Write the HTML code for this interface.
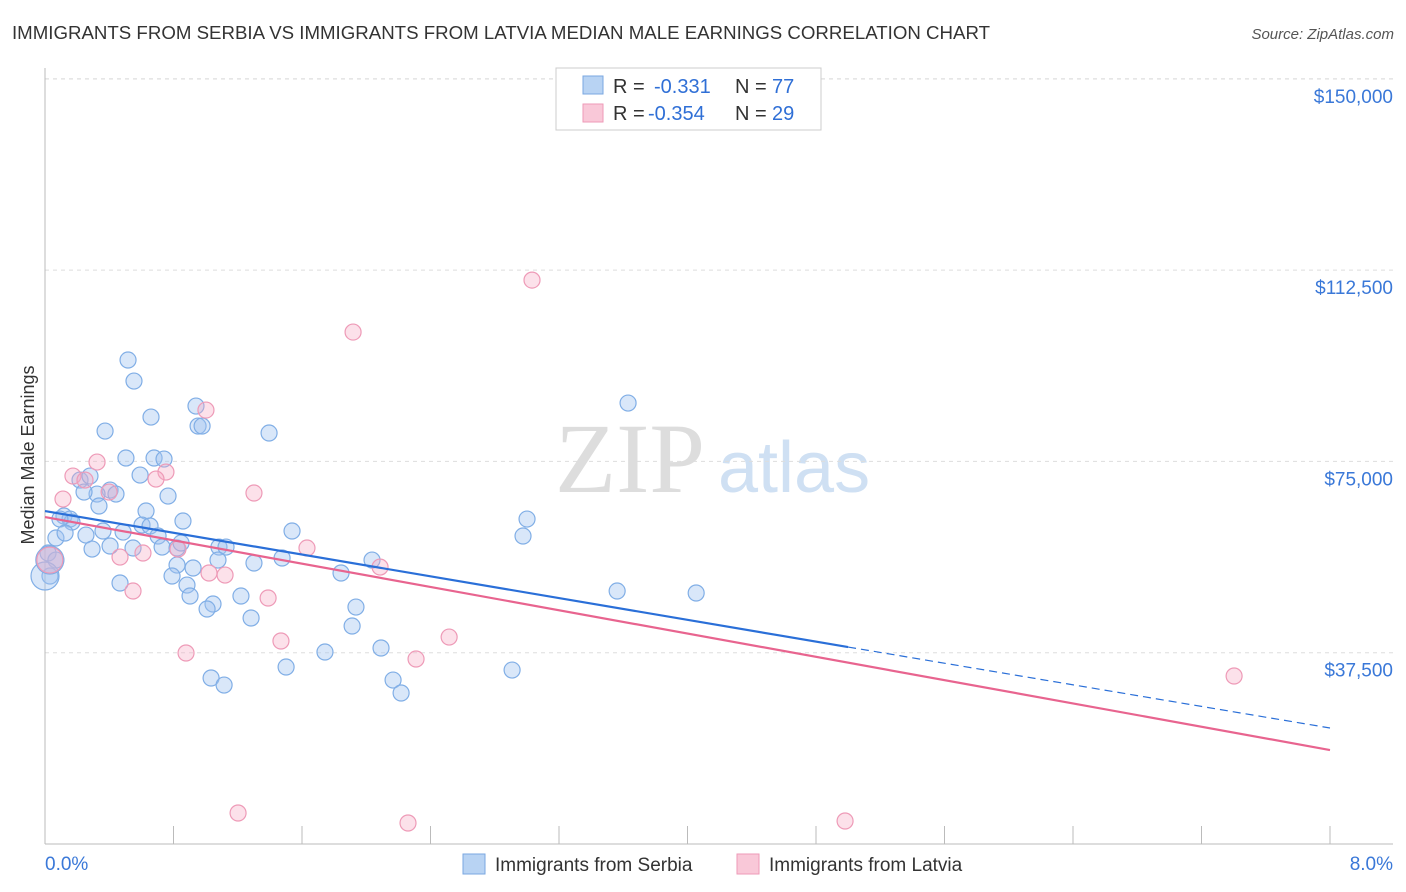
<!DOCTYPE html>
<html><head><meta charset="utf-8"><style>
body{margin:0;background:#fff;font-family:"Liberation Sans",sans-serif;}
#c{position:relative;width:1406px;height:892px;overflow:hidden;}
</style></head><body>
<div id="c">
<svg id="s" width="1406" height="892" xmlns="http://www.w3.org/2000/svg">
<text x="12" y="39" font-size="18" fill="#333" textLength="978" lengthAdjust="spacingAndGlyphs">IMMIGRANTS FROM SERBIA VS IMMIGRANTS FROM LATVIA MEDIAN MALE EARNINGS CORRELATION CHART</text>
<text x="1394" y="39" font-size="15" fill="#555" font-style="italic" text-anchor="end">Source: ZipAtlas.com</text>
<text x="34" y="455" font-size="18" fill="#333" text-anchor="middle" transform="rotate(-90 34 455)">Median Male Earnings</text>
<text x="555" y="492" font-size="100" fill="#ddd" font-family="Liberation Serif">ZIP</text>
<text x="718" y="492" font-size="72" fill="#cfe0f3">atlas</text>
<g id="grid"></g><g id="axes"></g><g id="pts"></g><g id="trend"></g>
<g>
<rect x="556" y="68" width="265" height="62" fill="#fff" stroke="#ccc"/>
<rect x="583" y="76" width="20" height="18" fill="#b8d3f3" stroke="#7aa7e0"/>
<rect x="583" y="104" width="20" height="18" fill="#f9c8d8" stroke="#ee9ab7"/>
<text x="613" y="93" font-size="20" fill="#333">R = <tspan x="654" fill="#2f6fd6">-0.331</tspan><tspan x="735">N = </tspan><tspan x="772" fill="#2f6fd6">77</tspan></text>
<text x="613" y="120" font-size="20" fill="#333">R = <tspan x="648" fill="#2f6fd6">-0.354</tspan><tspan x="735">N = </tspan><tspan x="772" fill="#2f6fd6">29</tspan></text>
</g>
<g>
<rect x="463" y="854" width="22" height="20" fill="#b8d3f3" stroke="#7aa7e0"/>
<text x="495" y="871" font-size="19" fill="#333">Immigrants from Serbia</text>
<rect x="737" y="854" width="22" height="20" fill="#f9c8d8" stroke="#ee9ab7"/>
<text x="769" y="871" font-size="19" fill="#333">Immigrants from Latvia</text>
</g>
</svg></div>
<script>
const yTicks=[37500,75000,112500,150000];
const yTickLabels=["$37,500","$75,000","$112,500","$150,000"];
const xTickLabels=["0.0%","8.0%"];
const serbiaX=[0.517,0.554,0.660,0.374,0.940,0.953,0.978,1.395,0.504,0.679,0.741,0.592,0.766,3.630,0.218,0.280,0.405,0.442,0.324,0.243,0.336,0.118,0.156,0.168,0.093,0.629,0.859,0.604,0.654,0.361,0.486,0.704,0.068,0.125,0.255,0.019,0.031,0.293,0.405,0.548,0.729,0.822,0.847,1.083,1.127,1.538,3.001,2.976,1.077,1.301,1.476,2.036,0.822,0.922,0.791,0.884,1.843,0.467,0.903,1.220,1.046,1.009,1.936,1.283,1.912,3.562,4.054,1.743,2.092,1.501,2.908,1.034,1.115,2.167,2.217,0.068];
const serbiaY=[94870,90750,83690,80950,85850,81930,81930,80560,75660,75660,75460,72320,68210,86440,71340,72130,69380,68600,68600,68990,66250,64290,63700,63110,63700,65270,63310,62520,62330,61350,61150,60370,59980,60960,60560,57040,52530,57820,58410,58020,58210,58020,59000,58210,58210,61350,63700,60370,55660,55080,56060,55660,54680,54100,52530,50760,53120,51160,48610,48610,47040,46060,46450,44300,42730,49590,49200,37630,38420,34690,34100,32540,31160,32140,29600,55660];
const latviaX=[3.032,1.918,1.002,0.324,0.174,0.112,0.399,0.753,0.691,1.301,0.249,0.828,0.610,1.631,0.467,1.021,1.121,2.086,0.548,1.389,1.469,2.516,2.310,0.878,1.202,2.260,4.981,7.403];
const latviaY=[110540,100350,85060,74870,72130,67620,68990,72910,71540,68800,71340,57820,57040,58020,56250,53120,52720,54290,49590,48220,39790,40570,36260,37440,6080,4120,4510,32930];
const serbiaBig=[[0.0,52530],[0.03,55660]];
const latviaBig=[[0.03,55660]];
const serbiaTrend=[[0,65270],[5.0,38610],[8.0,22740]];
const latviaTrend=[[0,64090],[8.0,18420]];
const X0=45,X1=1330,Y0=844,YP=191.3/37500;
const sx=v=>X0+v/8*(X1-X0), sy=v=>Y0-v*YP;
const NS="http://www.w3.org/2000/svg";
function mk(p,t,a){const e=document.createElementNS(NS,t);for(const k in a)e.setAttribute(k,a[k]);document.getElementById(p).appendChild(e);return e;}
const topGrid=mk("grid","line",{x1:45,x2:1393,y1:79,y2:79,stroke:"#ddd","stroke-dasharray":"4,4"});


yTicks.forEach((v,i)=>{
 const l=mk("grid","line",{x1:45,x2:1393,y1:sy(v),y2:sy(v),stroke:"#ddd","stroke-dasharray":"4,4"});
 
 
 const t=mk("axes","text",{x:1393,y:sy(v)+24,"font-size":19,fill:"#3a78d8","text-anchor":"end"});
 t.textContent=yTickLabels[i];
 
 
});
const ya=mk("axes","line",{x1:45,x2:45,y1:68,y2:844,stroke:"#bbb"});


const xa=mk("axes","line",{x1:45,x2:1393,y1:844,y2:844,stroke:"#bbb"});


for(let i=0;i<=10;i++){
 const tk=mk("axes","line",{x1:sx(i*0.8),x2:sx(i*0.8),y1:826,y2:844,stroke:"#bbb"});
 
 
}
[[0,"start",45],[8,"end",1393]].forEach((d,i)=>{
 const t=mk("axes","text",{x:d[2],y:870,"font-size":19,fill:"#3a78d8","text-anchor":d[1]});
 t.textContent=xTickLabels[i];
 
 
});
function dots(xs,ys,fill,stroke,name,r){
 xs.forEach((x,i)=>{
  const c=mk("pts","circle",{cx:sx(x),cy:sy(ys[i]),r:r,fill:fill,stroke:stroke,"stroke-width":1.2});
  
  
 });
}
dots(serbiaX,serbiaY,"rgba(160,196,240,0.4)","#80aee6","serbia-point",8);
dots(latviaX,latviaY,"rgba(245,170,195,0.35)","#ee9ab7","latvia-point",8);
dots(serbiaBig.map(d=>d[0]),serbiaBig.map(d=>d[1]),"rgba(160,196,240,0.4)","#80aee6","serbia-point-large",14);
dots(latviaBig.map(d=>d[0]),latviaBig.map(d=>d[1]),"rgba(245,170,195,0.35)","#ee9ab7","latvia-point-large",13);
const b1=mk("trend","line",{x1:sx(serbiaTrend[0][0]),y1:sy(serbiaTrend[0][1]),x2:sx(serbiaTrend[1][0]),y2:sy(serbiaTrend[1][1]),stroke:"#2a6fd8","stroke-width":2.2});


const b2=mk("trend","line",{x1:sx(serbiaTrend[1][0]),y1:sy(serbiaTrend[1][1]),x2:sx(serbiaTrend[2][0]),y2:sy(serbiaTrend[2][1]),stroke:"#2a6fd8","stroke-width":1.2,"stroke-dasharray":"8,5"});


const p1=mk("trend","line",{x1:sx(latviaTrend[0][0]),y1:sy(latviaTrend[0][1]),x2:sx(latviaTrend[1][0]),y2:sy(latviaTrend[1][1]),stroke:"#e8648f","stroke-width":2.2});


</script>
</body></html>
